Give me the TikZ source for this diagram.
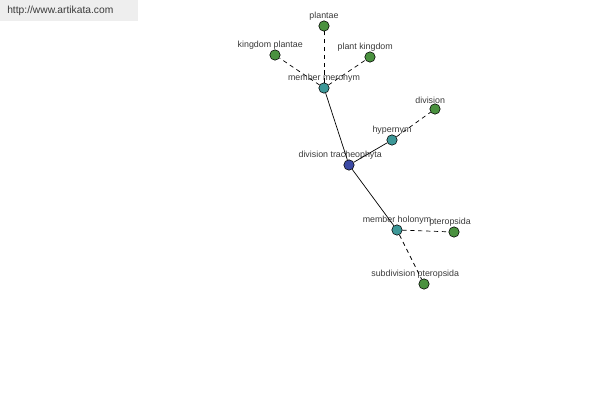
\documentclass[tikz,border=0pt]{standalone}
\usepackage{fontspec}
\setmainfont{Liberation Sans}
\usepackage{xcolor}
\usetikzlibrary{arrows.meta,calc,positioning}
\definecolor{ArtiLeaf}{HTML}{4A913F}
\definecolor{ArtiRel}{HTML}{3D9898}
\definecolor{ArtiRoot}{HTML}{3C4AA5}
\definecolor{ArtiText}{HTML}{3A3A3A}
\definecolor{ArtiBar}{HTML}{EEEEEE}
\tikzset{
  every label/.style={text=ArtiText,inner sep=0pt,font=\fontsize{6.3}{7}\selectfont},
  word/.style={circle,draw=black,line width=0.4pt,inner sep=0pt,minimum size=2.6mm,
    label distance=0.4mm},
  leafword/.style={word,fill=ArtiLeaf},
  relword/.style={word,fill=ArtiRel},
  rootword/.style={word,fill=ArtiRoot},
  solidlink/.style={black,line width=0.5pt},
  dashlink/.style={black,line width=0.5pt,dash pattern=on 3pt off 2.6pt}
}
\begin{document}
\begin{tikzpicture}[x=0.25mm,y=-0.25mm]
        \useasboundingbox (0,0) rectangle (600,400);
        \fill[ArtiBar] (0,0) rectangle (138,21);
        \node[anchor=west,inner sep=0pt,text=ArtiText,
          font=\fontsize{7.3}{8.5}\selectfont] (site) at (7,11) {http://www.artikata.com};
        % word graph
        \node[rootword,label={[xshift=-2.2mm]above:{division tracheophyta}}] (tracheo) at (349,165) {};
        \node[relword,label=above:{member meronym}] (meronym) at (324,88) {};
        \node[relword,label=above:{hypernym}] (hyper) at (392,140) {};
        \node[relword,label=above:{member holonym}] (holonym) at (397,230) {};
        \node[leafword,label=above:{plantae}] (plantae) at (324,26) {};
        \node[leafword,label={[xshift=-1.2mm]above:{kingdom plantae}}] (kplantae) at (275,55) {};
        \node[leafword,label={[xshift=-1.2mm]above:{plant kingdom}}] (pkingdom) at (370,57) {};
        \node[leafword,label={[xshift=-1.2mm]above:{division}}] (division) at (435,109) {};
        \node[leafword,label={[xshift=-1mm]above:{pteropsida}}] (pteropsida) at (454,232) {};
        \node[leafword,label={[xshift=-2.2mm]above:{subdivision pteropsida}}] (subptero) at (424,284) {};
        \draw[solidlink] (tracheo) -- (meronym);
        \draw[solidlink] (tracheo) -- (hyper);
        \draw[solidlink] (tracheo) -- (holonym);
        \draw[dashlink] (meronym) -- (plantae);
        \draw[dashlink] (meronym) -- (kplantae);
        \draw[dashlink] (meronym) -- (pkingdom);
        \draw[dashlink] (hyper) -- (division);
        \draw[dashlink] (holonym) -- (pteropsida);
        \draw[dashlink] (holonym) -- (subptero);
      \end{tikzpicture}
\end{document}
